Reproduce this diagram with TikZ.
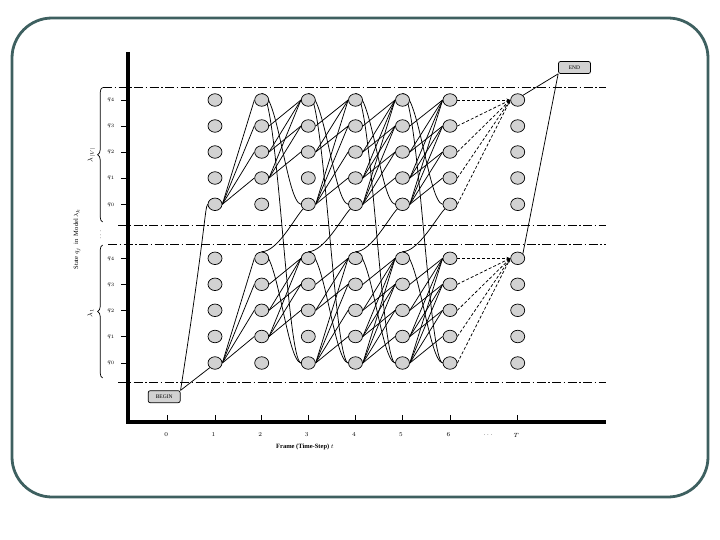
\documentclass[tikz,border=0pt]{standalone}
\usepackage{fontspec}
\setmainfont{Liberation Serif}
\usetikzlibrary{shapes.geometric,decorations.pathreplacing,arrows.meta,backgrounds}
\definecolor{framecol}{RGB}{62,96,96}
\definecolor{nodefill}{RGB}{210,210,210}
\begin{document}
\begin{tikzpicture}[x=1pt,y=-1pt,
  st/.style={ellipse, draw, fill=nodefill, minimum width=14pt, minimum height=12.5pt, inner sep=0pt, line width=0.7pt},
  tr/.style={line width=0.75pt},
  dsh/.style={line width=0.75pt, dash pattern=on 3pt off 2pt, -{Stealth[length=4pt,width=3pt]}},
  dd/.style={line width=0.7pt, dash pattern=on 9pt off 2.5pt on 1.5pt off 2.5pt},
  termbox/.style={draw, rounded corners=2pt, fill=nodefill, minimum width=32pt, minimum height=12pt, inner sep=0pt, font=\fontsize{5.5}{6}\selectfont, line width=0.7pt},
  lab/.style={font=\fontsize{6.5}{7}\selectfont, inner sep=0pt}]
\useasboundingbox (0,0) rectangle (720,540);
% slide frame
\draw[framecol, line width=2.8pt, rounded corners=40pt] (12,18) rectangle (708,497);
% dash-dot separators
\draw[dd] (103,87.3) -- (606,87.3);
\draw[dd] (118,225) -- (606,225);
\draw[dd] (108,244.3) -- (606,244.3);
\draw[dd] (118,382.3) -- (606,382.3);
% axes
\draw[line width=4pt, line join=miter] (128,52) -- (128,422) -- (606,422);
% x ticks
\foreach \x/\l in {167.7/0,215/1,261.7/2,308.3/3,355.5/4,402.5/5,450/6,517.7/T} {
  \draw[line width=0.9pt] (\x,415) -- (\x,422);
  \node[lab] (tx\l) at (\x-1.5,435) {$\l$};
}
\node[lab] (txdots) at (488,435) {$\cdots$};
\node[lab, font=\fontsize{6.5}{7}\selectfont\bfseries] (xtitle) at (305,447) {Frame (Time-Step) $t$};
% y ticks and labels
\foreach \r/\yu/\yl in {0/204.3/363,1/178/336.5,2/152/310.3,3/126/284.3,4/100/258.3} {
  \draw[line width=0.9pt] (121,\yu) -- (128,\yu);
  \draw[line width=0.9pt] (121,\yl) -- (128,\yl);
  \node[lab] (yu\r) at (111,\yu) {$q_\r$};
  \node[lab] (yl\r) at (111,\yl) {$q_\r$};
}
% braces
\draw[decorate, decoration={brace, amplitude=5pt}, line width=0.7pt] (102.7,222) -- (102.7,87.5);
\draw[decorate, decoration={brace, amplitude=5pt}, line width=0.7pt] (102.7,378) -- (102.7,245);
\node[lab, rotate=90, font=\fontsize{7.5}{8}\selectfont] (lamV) at (91.5,155) {$\lambda_{|V|}$};
\node[lab, rotate=90, font=\fontsize{7.5}{8}\selectfont] (lam1) at (90.5,313) {$\lambda_1$};
\node[lab, rotate=90] (vdots) at (100.7,235) {$\cdots$};
\node[lab, rotate=90, font=\fontsize{6.5}{7}\selectfont] (ytitle) at (77,239) {State $q_j$ \ in \ Model $\lambda_k$};
% state nodes
\foreach \c/\x in {1/215,2/261.7,3/308.3,4/355.5,5/402.5,6/450,7/517.7} {
  \foreach \r/\yu/\yl in {0/204.3/363,1/178/336.5,2/152/310.3,3/126/284.3,4/100/258.3} {
    \node[st] (u-\c-\r) at (\x,\yu) {};
    \node[st] (l-\c-\r) at (\x,\yl) {};
  }
}
\node[termbox] (begin) at (164.2,396.7) {BEGIN};
\node[termbox] (end) at (574.5,67.5) {END};
% connectors
\begin{pgfonlayer}{background}
\foreach \m in {u,l} {
  \foreach \j in {1,2,3,4} \draw[tr] (\m-1-0.east) -- (\m-2-\j.west);
  \foreach \i/\j in {1/2,1/3,1/4,2/3,2/4,3/4} \draw[tr] (\m-2-\i.east) -- (\m-3-\j.west);
  \foreach \i/\j in {0/1,0/2,0/3,0/4,2/3,2/4,3/4} \draw[tr] (\m-3-\i.east) -- (\m-4-\j.west);
  \foreach \t/\n in {4/5,5/6} {
    \foreach \i/\j in {0/1,0/2,0/3,0/4,1/2,1/3,1/4,2/3,2/4,3/4} \draw[tr] (\m-\t-\i.east) -- (\m-\n-\j.west);
  }
  \foreach \r in {0,...,4} \draw[dsh] (\m-6-\r.east) -- (\m-7-4.west);
}
\foreach \t/\n in {2/3,3/4,4/5,5/6} {
  \draw[tr] (u-\t-4.north) .. controls +(16,0) and +(-14,-2) .. (u-\n-0.west);
  \draw[tr] (u-\t-4.north) .. controls +(16,0) and +(-14,-2) .. (l-\n-0.west);
  \draw[tr] (l-\t-4.north) .. controls +(16,0) and +(-14,-2) .. (l-\n-0.west);
  \draw[tr] (l-\t-4.north) .. controls +(16,0) and +(-8,8) .. (u-\n-0.south west);
}
\draw[tr] (begin.north east) .. controls +(25,-160) and +(-3,4) .. (u-1-0.west);
\draw[tr] (begin.north east) -- (l-1-0.south west);
\draw[tr] (u-7-4.north east) -- (end.south west);
\draw[tr] (l-7-4.north east) -- (end.south west);
\end{pgfonlayer}
\end{tikzpicture}
\end{document}
